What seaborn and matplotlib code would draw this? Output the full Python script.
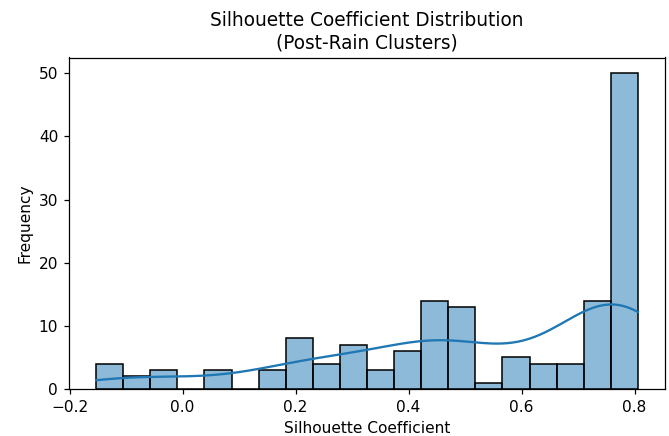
import numpy as np
import pandas as pd
import matplotlib
matplotlib.use("Agg")
import matplotlib.pyplot as plt
import seaborn as sns

# histogram: 20 equal bins
edge_lo = -0.153
edge_hi = 0.806
counts = [4, 2, 3, 0, 3, 0, 3, 8, 4, 7, 3, 6, 14, 13, 1, 5, 4, 4, 14, 50]

edges = np.linspace(edge_lo, edge_hi, len(counts) + 1)
vals = []
for lo, hi, n in zip(edges[:-1], edges[1:], counts):
    for k in range(n):
        vals.append(lo + (k + 0.5) / n * (hi - lo))
vals[0] = edge_lo
vals[-1] = edge_hi
df = pd.DataFrame({"silhouette": vals})

fig, ax = plt.subplots(figsize=(669 / 111, 436 / 111), dpi=111)
sns.histplot(data=df, x="silhouette", bins=20, kde=True, edgecolor="black", ax=ax)
ax.set_title("Silhouette Coefficient Distribution\n(Post-Rain Clusters)")
ax.set_xlabel("Silhouette Coefficient")
ax.set_ylabel("Frequency")
fig.subplots_adjust(left=69 / 669, right=665 / 669, top=1 - 57.5 / 436, bottom=1 - 389 / 436)
plt.savefig("out.png", dpi=111)
